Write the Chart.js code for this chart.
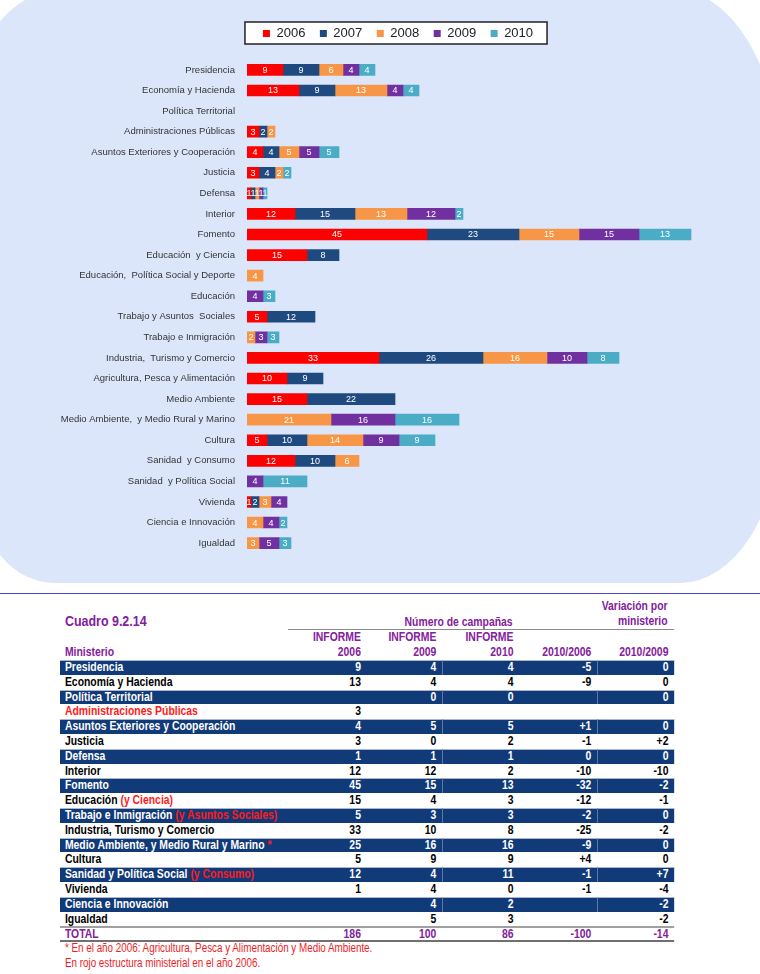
<!DOCTYPE html>
<html>
<head>
<meta charset="utf-8">
<script src="https://cdn.jsdelivr.net/npm/chart.js@4/dist/chart.umd.min.js"></script>
<style>
body{margin:0;width:760px;height:974px;position:relative;overflow:hidden;background:#fff;font-family:"Liberation Sans",Arial,sans-serif}
#bg{position:absolute;left:-20px;top:-12px;width:800px;height:595px;background:#dce6fb;border-radius:90px 110px 100px 75px / 90px 180px 160px 88px}
#chartBox{position:absolute;left:0;top:0;width:760px;height:590px}
#sep{position:absolute;left:0;top:593px;width:760px;height:1px;background:#4646cc}
/* parte inferior: Liberation Sans comprimida para imitar Arial Narrow */
#abajo{position:absolute;left:60px;top:595px;width:749px;height:379px;transform:scaleX(0.82);transform-origin:0 0;font-weight:bold;font-size:12.7px}
.pur{color:#83209c}
#cuadro{position:absolute;left:6px;top:16px;font-size:15.2px;line-height:20px}
#campanas{position:absolute;right:197px;top:19px;line-height:16px;text-align:right}
#variacion{position:absolute;right:8px;top:4px;line-height:15px;text-align:right}
#linea{position:absolute;left:278px;top:34px;width:471px;height:1px;background:#8a8a8a}
.fila{position:absolute;left:0;width:749px;display:flex;line-height:14.8px;height:14.8px}
.c{flex:none;box-sizing:border-box;text-align:right;padding-right:7px;white-space:nowrap;overflow:hidden}
.c:first-child{text-align:left;padding-left:6px;padding-right:0}
.cab{color:#83209c;line-height:15px;height:15px}
.osc{background:#113a78;color:#fff;box-shadow:inset 0 1px 0 #aab6cc}
.cla{color:#000}
.osc .sep{border-left:1px solid #7088b0}
.tot{color:#83209c;border-top:2px solid #a0a0a0;border-bottom:2px solid #707070;box-sizing:border-box;height:15.5px;line-height:12px}
.rojo{color:#ff1a1a}
#notas{position:absolute;left:6px;top:346px;line-height:15px;color:#ee1c25;font-weight:normal;font-size:12px}
</style>
</head>
<body>
<div id="bg"></div>
<div id="chartBox"><canvas id="chart"></canvas></div>
<div id="sep"></div>

<div id="abajo">
<div id="cuadro" class="pur">Cuadro 9.2.14</div>
<div id="campanas" class="pur">Número de campañas</div>
<div id="variacion" class="pur">Variación por<br>ministerio</div>
<div id="linea"></div>
<div id="filas"></div>
<div id="notas">* En el año 2006: Agricultura, Pesca y Alimentación y Medio Ambiente.<br>En rojo estructura ministerial en el año 2006.</div>
</div>

<script>
// datos del gráfico
const categorias=["Presidencia","Economía y Hacienda","Política Territorial","Administraciones Públicas","Asuntos Exteriores y Cooperación","Justicia","Defensa","Interior","Fomento","Educación  y Ciencia","Educación,  Política Social y Deporte","Educación","Trabajo y Asuntos  Sociales","Trabajo e Inmigración","Industria,  Turismo y Comercio","Agricultura, Pesca y Alimentación","Medio Ambiente","Medio Ambiente,  y Medio Rural y Marino","Cultura","Sanidad  y Consumo","Sanidad  y Política Social","Vivienda","Ciencia e Innovación","Igualdad"]
const anios=["2006","2007","2008","2009","2010"]
const v2006=[9,13,null,3,4,3,1,12,45,15,null,null,5,null,33,10,15,null,5,12,null,1,null,null]
const v2007=[9,9,null,2,4,4,1,15,23,8,null,null,12,null,26,9,22,null,10,10,null,2,null,null]
const v2008=[6,13,null,2,5,2,1,13,15,null,4,null,null,2,16,null,null,21,14,6,null,3,4,3]
const v2009=[4,4,null,null,5,null,1,12,15,null,null,4,null,3,10,null,null,16,9,null,4,4,4,5]
const v2010=[4,4,null,null,5,2,1,2,13,null,null,3,null,3,8,null,null,16,9,null,11,null,2,3]
const colores=["#ff0000","#1f4a7f","#f79646","#7030a0","#4bacc6"]

// datos de la tabla
const ministerios=["Presidencia","Economía y Hacienda","Política Territorial","Administraciones Públicas","Asuntos Exteriores y Cooperación","Justicia","Defensa","Interior","Fomento","Educación","Trabajo e Inmigración","Industria, Turismo y Comercio","Medio Ambiente, y Medio Rural y Marino","Cultura","Sanidad y Política Social","Vivienda","Ciencia e Innovación","Igualdad"]
const sufijos=["","","","","","","","","","(y Ciencia)","(y Asuntos Sociales)","","*","","(y Consumo)","","",""]
const inf2006=[9,13,"",3,4,3,1,12,45,15,5,33,25,5,12,1,"",""]
const inf2009=[4,4,0,"",5,0,1,12,15,4,3,10,16,9,4,4,4,5]
const inf2010=[4,4,0,"",5,2,1,2,13,3,3,8,16,9,11,0,2,3]
const var2006=[-5,-9,"","",1,-1,0,-10,-32,-12,-2,-25,-9,4,-1,-1,"",""]
const var2009=[0,0,0,"",0,2,0,-10,-2,-1,0,-2,0,0,7,-4,-2,-2]
const totales=[186,100,86,-100,-14]
const anchos=[280,94,92,94,95,94]

function signo(v){
if(v==="")return ""
return v>0?"+"+v:String(v)
}

function fila(cls,celdas,top){
let s='<div class="fila '+cls+'" style="top:'+top+'px">'
celdas.forEach((t,i)=>{
let extra=(i==3||i==5)?" sep":""
s+='<div class="c'+extra+'" style="width:'+anchos[i]+'px">'+t+'</div>'
})
return s+'</div>'
}

let html=fila("cab",["","INFORME","INFORME","INFORME","",""],35)
html+=fila("cab",["Ministerio","2006","2009","2010","2010/2006","2010/2009"],50)
ministerios.forEach((m,i)=>{
let nombre=i==3?'<span class="rojo">'+m+'</span>':m
if(sufijos[i])nombre+=' <span class="rojo">'+sufijos[i]+'</span>'
html+=fila(i%2==0?"osc":"cla",[nombre,inf2006[i],inf2009[i],inf2010[i],signo(var2006[i]),signo(var2009[i])],65+i*14.8)
})
html+=fila("tot",["TOTAL"].concat(totales),65+18*14.8)
document.getElementById("filas").innerHTML=html

// etiquetas blancas dentro de las barras
const etiquetas={
id:"etiquetas",
afterDatasetsDraw(chart){
const c=chart.ctx
c.save()
c.font='9px "Liberation Sans", Arial, sans-serif'
c.fillStyle="#fff"
c.textAlign="center"
c.textBaseline="middle"
chart.data.datasets.forEach((ds,i)=>{
chart.getDatasetMeta(i).data.forEach((bar,j)=>{
let v=ds.data[j]
if(v==null)return
c.fillText(v,(bar.x+bar.base)/2,bar.y+0.5)
})
})
c.restore()
}
}

// marco de la leyenda
const marco={
id:"marco",
beforeDraw(chart){
const boxes=chart.legend&&chart.legend.legendHitBoxes
if(!boxes||!boxes.length)return
const l=Math.min(...boxes.map(b=>b.left))
const r=Math.max(...boxes.map(b=>b.left+b.width))
const t=boxes[0].top
const h=boxes[0].height
const c=chart.ctx
c.save()
c.fillStyle="#fff"
c.strokeStyle="#222"
c.lineWidth=1.5
c.fillRect(l-18,t-5,r-l+32,h+9)
c.strokeRect(l-18,t-5,r-l+32,h+9)
c.restore()
}
}

const series=[v2006,v2007,v2008,v2009,v2010]

new Chart(document.getElementById("chart"),{
type:"bar",
data:{
labels:categorias,
datasets:series.map((d,i)=>({
label:anios[i],
data:d,
backgroundColor:colores[i],
borderWidth:0,
barThickness:11
}))
},
options:{
indexAxis:"y",
responsive:true,
maintainAspectRatio:false,
animation:false,
layout:{padding:{left:49,right:13,top:12.5,bottom:36.6}},
plugins:{
legend:{
position:"top",
labels:{boxWidth:7,boxHeight:7,padding:14.5,color:"#222",font:{size:13,family:'"Liberation Sans", Arial, sans-serif'}}
},
tooltip:{enabled:false}
},
scales:{
x:{
stacked:true,
position:"top",
min:0,
max:125,
grid:{display:false},
border:{display:false},
ticks:{display:false},
afterFit(s){s.height=9.6}
},
y:{
stacked:true,
grid:{display:false,drawTicks:false},
border:{display:false},
ticks:{autoSkip:false,padding:12,color:"#333",font:{size:9.5,family:'"Liberation Sans", Arial, sans-serif'}},
afterFit(s){s.width=198}
}
}
},
plugins:[marco,etiquetas]
})
</script>
</body>
</html>
